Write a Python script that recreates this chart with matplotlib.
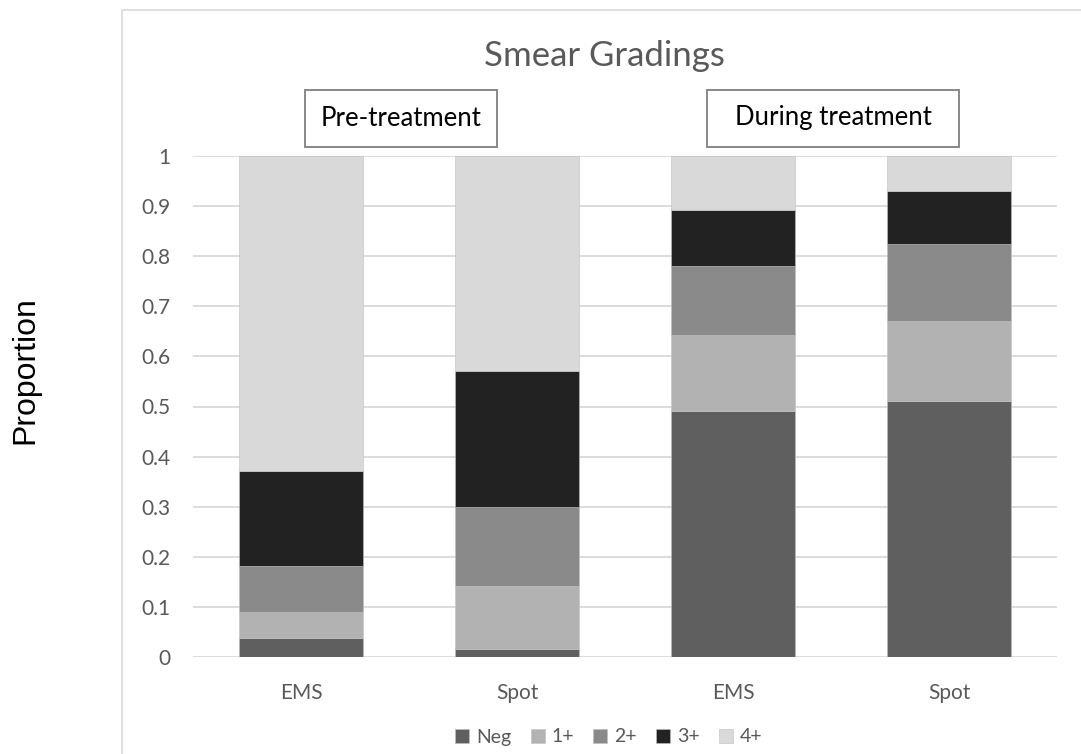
import numpy as np
import matplotlib.pyplot as plt
from matplotlib.patches import Rectangle

# dados
categories = ['EMS', 'Spot', 'EMS', 'Spot']
grades = ['Neg', '1+', '2+', '3+', '4+']
neg = [0.037, 0.015, 0.491, 0.510]
g1 = [0.053, 0.127, 0.152, 0.161]
g2 = [0.092, 0.158, 0.137, 0.153]
g3 = [0.189, 0.271, 0.112, 0.107]
g4 = [0.629, 0.429, 0.108, 0.069]
colors = ['#5f5f5f', '#b2b2b2', '#8a8a8a', '#222222', '#d9d9d9']

plt.rcParams['font.family'] = ['Lato', 'DejaVu Sans']

W, H = 1081, 754
fig = plt.figure(figsize=(W / 100, H / 100), dpi=100)

# moldura externa do gráfico
fig.patches.append(Rectangle((122 / W, -0.5), 2, 1.5 - 10 / H, transform=fig.transFigure,
                             fill=False, edgecolor='#d9d9d9', linewidth=1.2))

ax = fig.add_axes([193 / W, 1 - 657 / H, (1057 - 193) / W, (657 - 156) / H])

x = np.arange(len(categories))
bottom = np.zeros(len(categories))
for name, vals, c in zip(grades, [neg, g1, g2, g3, g4], colors):
    ax.bar(x, vals, 0.57, bottom=bottom, color=c, label=name, zorder=3,
           edgecolor='#bfbfbf', linewidth=0.4)
    bottom += np.array(vals)

ax.set_xlim(-0.5, 3.5)
ax.set_ylim(0, 1)
ax.set_yticks(np.arange(0, 1.01, 0.1))
ax.set_yticklabels(['0', '0.1', '0.2', '0.3', '0.4', '0.5', '0.6', '0.7', '0.8', '0.9', '1'])
ax.set_xticks(x)
ax.set_xticklabels(categories)
ax.tick_params(axis='both', length=0, labelsize=15, labelcolor='#595959')
ax.tick_params(axis='y', pad=16)
ax.tick_params(axis='x', pad=19)
ax.grid(axis='y', color='#d9d9d9', linewidth=1.3, zorder=0)
for s in ax.spines.values():
    s.set_visible(False)

fig.text(604 / W, 1 - 66 / H, 'Smear Gradings', ha='center', va='baseline',
         fontsize=25, color='#595959')

fig.text(25 / W, 1 - 370 / H, 'Proportion', rotation=90, ha='center', va='center',
         fontsize=23, color='black', family=['Liberation Sans'])

fig.patches.append(Rectangle((305 / W, 1 - 147 / H), 192 / W, 57 / H, transform=fig.transFigure,
                             facecolor='white', edgecolor='#7f7f7f', linewidth=1.3))
fig.patches.append(Rectangle((707 / W, 1 - 147 / H), 252 / W, 57 / H, transform=fig.transFigure,
                             facecolor='white', edgecolor='#7f7f7f', linewidth=1.3))
fig.text(401 / W, 1 - 118 / H, 'Pre-treatment', ha='center', va='center', fontsize=18.5, color='black')
fig.text(833 / W, 1 - 118 / H, 'During treatment', ha='center', va='center', fontsize=18.5, color='black')

fig.legend(loc='center', bbox_to_anchor=(609 / W, 1 - 737 / H), ncol=5, frameon=False,
           fontsize=14, labelcolor='#595959', handlelength=0.72, handleheight=0.72,
           handletextpad=0.35, columnspacing=1.0)

fig.savefig('out.png', dpi=100)
